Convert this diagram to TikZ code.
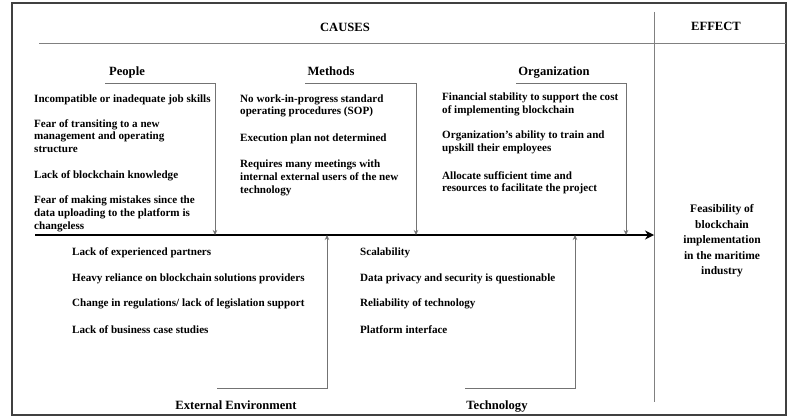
\documentclass[tikz,border=0pt]{standalone}
\usepackage{fontspec}
\setmainfont{Liberation Serif}
\usetikzlibrary{arrows.meta}

\tikzset{
  item/.style={anchor=north west, align=left, inner sep=0pt,
    font=\fontsize{11.1}{12.6}\selectfont\bfseries},
  head/.style={anchor=base, inner sep=0pt,
    font=\fontsize{12.6}{14}\selectfont\bfseries},
  branch/.style={draw=black!55, line width=0.9pt,
    -{Stealth[length=5pt,width=4.5pt]}},
  spine/.style={line width=2.4pt, -{Stealth[length=9pt,width=9pt]}},
  rule/.style={draw=black!50, line width=0.9pt}
}

\begin{document}
\begin{tikzpicture}[x=1pt,y=-1pt]
  \useasboundingbox (0,0) rectangle (787,417);
  % frame, header rule and cause/effect split
  \draw[draw=black!75, line width=1.5pt] (12,3) rectangle (786,415);
  \draw[rule] (39,43) -- (786,43);
  \draw[rule] (654,12) -- (654,402);
  \node[head] (causes) at (345,32) {CAUSES};
  \node[head] (effect) at (716,31) {EFFECT};

  % the spine
  \coordinate (tail) at (35,235);
  \coordinate (head) at (654,235);
  \draw[spine] (tail) -- (head);

  % category headings
  \node[head] (people) at (127,76) {People};
  \node[head] (methods) at (331,76) {Methods};
  \node[head] (org) at (554,76) {Organization};
  \node[head] (env) at (236,409) {External Environment};
  \node[head] (tech) at (497,409) {Technology};

  % bones
  \coordinate (people0) at (105,83);
  \coordinate (people1) at (215,235);
  \coordinate (methods0) at (305,83);
  \coordinate (methods1) at (416,235);
  \coordinate (org0) at (516,83);
  \coordinate (org1) at (626,235);
  \coordinate (env0) at (217,388);
  \coordinate (env1) at (327,235);
  \coordinate (tech0) at (465,388);
  \coordinate (tech1) at (575,235);
  \draw[branch] (people0) -| (people1);
  \draw[branch] (methods0) -| (methods1);
  \draw[branch] (org0) -| (org1);
  \draw[branch] (env0) -| (env1);
  \draw[branch] (tech0) -| (tech1);

  % people
  \node[item] (p1) at (34,94.2) {Incompatible or inadequate job skills};
  \node[item] (p2) at (34,119.2) {Fear of transiting to a new\\management and operating\\structure};
  \node[item] (p3) at (34,170.2) {Lack of blockchain knowledge};
  \node[item] (p4) at (34,195.8) {Fear of making mistakes since the\\data uploading to the platform is\\changeless};

  % methods
  \node[item] (m1) at (240,94.2) {No work-in-progress standard\\operating procedures (SOP)};
  \node[item] (m2) at (240,133.5) {Execution plan not determined};
  \node[item] (m3) at (240,160) {Requires many meetings with\\internal external users of the new\\technology};

  % organization
  \node[item] (o1) at (442,93) {Financial stability to support the cost\\of implementing blockchain};
  \node[item] (o2) at (442,131) {Organization’s ability to train and\\upskill their employees};
  \node[item] (o3) at (442,171) {Allocate sufficient time and\\resources to facilitate the project};

  % external environment
  \node[item] (e1) at (72,247.8) {Lack of experienced partners};
  \node[item] (e2) at (72,273.8) {Heavy reliance on blockchain solutions providers};
  \node[item] (e3) at (72,298.8) {Change in regulations/ lack of legislation support};
  \node[item] (e4) at (72,325.8) {Lack of business case studies};

  % technology
  \node[item] (t1) at (360,247.8) {Scalability};
  \node[item] (t2) at (360,273.8) {Data privacy and security is questionable};
  \node[item] (t3) at (360,298.8) {Reliability of technology};
  \node[item] (t4) at (360,325.8) {Platform interface};

  % effect
  \node[align=center, inner sep=0pt, font=\fontsize{11.5}{15.5}\selectfont\bfseries]
    (result) at (722,241) {Feasibility of\\blockchain\\implementation\\in the maritime\\industry};
\end{tikzpicture}
\end{document}
